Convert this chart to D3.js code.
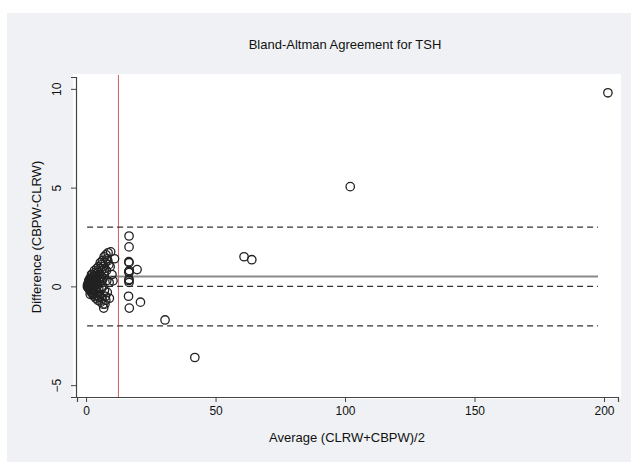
<!DOCTYPE html>
<html>
<head>
<meta charset="utf-8">
<script src="https://cdn.jsdelivr.net/npm/d3@7"></script>
<style>
  body { margin: 0; background: #fff; }
  svg { display: block; font-family: "Liberation Sans", Arial, sans-serif; }
</style>
</head>
<body>
<div id="chart"></div>
<script>
// Bland-Altman points: average of the two methods, and their difference
var avgValues = [
  0.5, 0.6, 0.8, 0.9, 1.0, 1.2, 1.4, 1.5, 1.7, 1.9, 2.0, 2.2, 2.3, 2.5, 2.6, 2.8,
  3.0, 3.1, 3.3, 3.5, 3.6, 3.8, 4.0, 4.1, 4.3, 4.5, 4.6, 4.8, 5.0, 5.2, 5.3, 5.5,
  5.7, 5.9, 6.0, 6.3, 6.5, 6.6, 6.8, 7.0, 7.2, 7.5, 7.7, 8.0, 8.2, 8.5, 8.8, 9.0,
  9.5, 10.0, 10.4, 11.0, 1.1, 2.1, 3.2, 4.2, 1.6, 2.7,
  0.7, 1.3, 1.8, 2.4, 2.9, 3.4, 3.9, 4.4, 4.9, 5.4, 5.8, 6.2, 6.7, 7.1, 7.4, 7.9,
  8.4, 8.9, 9.3, 1.0, 1.5, 2.0, 2.5, 3.0, 3.5, 4.0, 4.5, 5.0, 5.5, 6.0, 6.5, 7.0,
  7.6, 8.1, 1.2, 2.2, 3.2, 4.2, 5.2, 6.2, 7.3,
  16.6, 16.6, 16.5, 16.6, 16.5, 16.6, 16.6, 16.6, 16.4, 16.7, 16.5, 16.7,
  19.7, 21.0, 30.5, 42.0, 61.0, 64.0, 102.0, 201.5
];
var diffValues = [
  0.0, 0.1, 0.05, -0.05, -0.1, 0.2, 0.0, -0.2, 0.3, 0.1, -0.3, 0.4, -0.1, 0.2, -0.4, 0.5,
  0.0, -0.5, 0.3, 0.7, -0.2, -0.6, 0.4, 0.9, -0.3, 0.1, -0.7, 1.0, 0.6, -0.4, 0.2, 1.2,
  -0.8, 0.8, -0.1, 1.3, -0.9, 0.4, -1.1, 1.5, 0.9, -0.5, 1.6, 0.3, -0.3, 1.7, 1.1, -0.6,
  1.75, 0.6, 0.28, 1.4, 0.3, 0.6, 0.8, 0.2, -0.4, 0.1,
  -0.05, 0.15, -0.15, 0.3, -0.25, 0.5, 0.1, 0.7, -0.1, 0.9, 0.5, -0.6, 1.0, -0.2, 1.2, 0.8,
  1.3, 0.2, 1.0, 0.25, 0.4, 0.05, 0.6, -0.35, 0.1, -0.45, 0.55, -0.5, 0.4, 1.1, 0.0, 0.6,
  -0.7, 1.4, -0.1, -0.2, 0.55, 0.15, -0.55, 0.3, -0.9,
  2.55, 2.0, 1.25, 1.2, 0.75, 0.7, 0.35, 0.2, -0.5, -1.1, 0.3, 0.8,
  0.85, -0.8, -1.7, -3.6, 1.5, 1.35, 5.05, 9.8
];

// reference lines: mean difference, limits of agreement, zero line
var meanDiff = 0.5;
var limitsOfAgreement = [3.0, -2.0];
var zeroLine = 0;
var lineSpan = [0.4, 197.7];   // averages covered by the horizontal lines
var meanAverage = 12.5;        // red vertical line

var xTicks = [0, 50, 100, 150, 200];
var yTicks = [-5, 0, 5, 10];

var titleText = "Bland-Altman Agreement for TSH";
var xTitle = "Average (CLRW+CBPW)/2";
var yTitle = "Difference (CBPW-CLRW)";

var width = 631, height = 462;

var svg = d3.select("#chart").append("svg")
  .attr("width", width)
  .attr("height", height);

// outer graph region (Stata style light grey)
svg.append("rect")
  .attr("x", 7).attr("y", 13)
  .attr("width", width - 7).attr("height", height - 13)
  .attr("fill", "#eff1f4");

// plot region
svg.append("rect")
  .attr("x", 73).attr("y", 74)
  .attr("width", 548).attr("height", 325)
  .attr("fill", "#ffffff");

var x = d3.scaleLinear().domain([-3.5, 205.4]).range([77, 618]);
var y = d3.scaleLinear().domain([-5.6, 10.6]).range([397, 77]);

// red line at mean of averages
svg.append("line")
  .attr("x1", x(meanAverage)).attr("x2", x(meanAverage))
  .attr("y1", 75).attr("y2", 397)
  .attr("stroke", "#cf5a5e")
  .attr("stroke-width", 1);

// horizontal reference lines
var dashed = limitsOfAgreement.concat([zeroLine]);
svg.selectAll(".loa")
  .data(dashed)
  .enter().append("line")
  .attr("class", "loa")
  .attr("x1", x(lineSpan[0])).attr("x2", x(lineSpan[1]))
  .attr("y1", function(d) { return y(d); })
  .attr("y2", function(d) { return y(d); })
  .attr("stroke", "#333")
  .attr("stroke-width", 1.4)
  .attr("stroke-dasharray", "6,4");

svg.append("line")
  .attr("x1", x(lineSpan[0])).attr("x2", x(lineSpan[1]))
  .attr("y1", y(meanDiff)).attr("y2", y(meanDiff))
  .attr("stroke", "#8a8a8a")
  .attr("stroke-width", 2.2);

// points
var points = avgValues.map(function(a, i) { return {avg: a, diff: diffValues[i]}; });
svg.append("g").selectAll("circle")
  .data(points)
  .enter().append("circle")
  .attr("cx", function(d) { return x(d.avg); })
  .attr("cy", function(d) { return y(d.diff); })
  .attr("r", 4.2)
  .attr("fill", "none")
  .attr("stroke", "#222")
  .attr("stroke-width", 1.3);

// axes
var xAxis = svg.append("g")
  .attr("transform", "translate(0,397)")
  .call(d3.axisBottom(x).tickValues(xTicks).tickSize(5).tickPadding(4));
var yAxis = svg.append("g")
  .attr("transform", "translate(76,0)")
  .call(d3.axisLeft(y).tickValues(yTicks).tickSize(5).tickPadding(4));

[xAxis, yAxis].forEach(function(ax) {
  ax.select(".domain").attr("stroke", "#444").attr("stroke-width", 1.2);
  ax.selectAll(".tick line").attr("stroke", "#444");
  ax.selectAll("text").attr("fill", "#111").style("font-size", "12px");
});

// rotated y tick labels, like Stata
yAxis.selectAll(".tick text")
  .attr("x", 0).attr("dy", 0)
  .attr("text-anchor", "middle")
  .attr("transform", "translate(-15,0) rotate(-90)");

// titles
svg.append("text")
  .attr("x", 345).attr("y", 49)
  .attr("text-anchor", "middle")
  .style("font-size", "13px")
  .attr("fill", "#111")
  .text(titleText);

svg.append("text")
  .attr("x", 347).attr("y", 442)
  .attr("text-anchor", "middle")
  .style("font-size", "13px")
  .attr("fill", "#111")
  .text(xTitle);

svg.append("text")
  .attr("transform", "translate(41,237) rotate(-90)")
  .attr("text-anchor", "middle")
  .style("font-size", "13px")
  .attr("fill", "#111")
  .text(yTitle);
</script>
</body>
</html>
